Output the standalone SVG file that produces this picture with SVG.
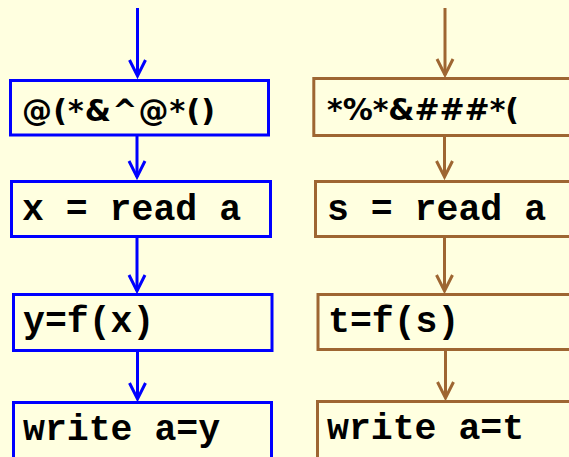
<svg xmlns="http://www.w3.org/2000/svg" width="569" height="457" viewBox="0 0 569 457">
  <style>
    .bg { fill: #FFFFE0; }
    .box { fill: #FFFFE0; stroke-width: 3; }
    .blue .box, .blue-line { stroke: #0000FF; }
    .brown .box, .brown-line { stroke: #9E6632; }
    .wire { fill: none; stroke-width: 3; }
    .head { fill: none; stroke-width: 3; stroke-linejoin: miter; }
    .code { font-family: "Courier New", "Nimbus Mono PS", "Liberation Mono", monospace; font-weight: bold; font-size: 36.5px; fill: #000000; }
    .junk { font-family: "DejaVu Sans", Verdana, sans-serif; font-weight: bold; font-size: 30px; fill: #000000; }
  </style>

  <rect class="bg" x="0" y="0" width="569" height="457"/>

  <!-- connectors -->
  <g id="connectors">
    <!-- left column -->
    <g class="blue-line">
      <line class="wire blue-line" x1="137.5" y1="8" x2="137.5" y2="76"/>
      <polyline class="head blue-line" points="129.5,60 137.5,76 145.5,60"/>
      <line class="wire blue-line" x1="137" y1="135" x2="137" y2="177"/>
      <polyline class="head blue-line" points="129,161 137,177 145,161"/>
      <line class="wire blue-line" x1="137" y1="237" x2="137" y2="291"/>
      <polyline class="head blue-line" points="129,275 137,291 145,275"/>
      <line class="wire blue-line" x1="137.5" y1="351" x2="137.5" y2="399"/>
      <polyline class="head blue-line" points="129.5,383 137.5,399 145.5,383"/>
    </g>
    <!-- right column -->
    <g class="brown-line">
      <line class="wire brown-line" x1="445" y1="8" x2="445" y2="75"/>
      <polyline class="head brown-line" points="437,59 445,75 453,59"/>
      <line class="wire brown-line" x1="444.5" y1="135" x2="444.5" y2="177"/>
      <polyline class="head brown-line" points="436.5,161 444.5,177 452.5,161"/>
      <line class="wire brown-line" x1="444.5" y1="237" x2="444.5" y2="291"/>
      <polyline class="head brown-line" points="436.5,275 444.5,291 452.5,275"/>
      <line class="wire brown-line" x1="445.5" y1="350" x2="445.5" y2="398"/>
      <polyline class="head brown-line" points="437.5,382 445.5,398 453.5,382"/>
    </g>
  </g>

  <!-- left column nodes -->
  <g class="blue">
    <g id="left-garbage">
      <rect class="box" x="10.5" y="80.5" width="258" height="54.5"/>
      <text class="junk" x="22" y="121" textLength="193" lengthAdjust="spacing">@(*&amp;^@*()</text>
    </g>
    <g id="left-read">
      <rect class="box" x="11.5" y="181.5" width="259" height="55"/>
      <text class="code" x="22" y="220">x = read a</text>
    </g>
    <g id="left-apply">
      <rect class="box" x="13.5" y="294.5" width="258.5" height="56"/>
      <text class="code" x="23" y="332">y=f(x)</text>
    </g>
    <g id="left-write">
      <rect class="box" x="13.5" y="402.5" width="258" height="70"/>
      <text class="code" x="23" y="440">write a=y</text>
    </g>
  </g>

  <!-- right column nodes -->
  <g class="brown">
    <g id="right-garbage">
      <rect class="box" x="313.8" y="78.5" width="280" height="57"/>
      <text class="junk" x="327" y="120" textLength="192" lengthAdjust="spacing">*%*&amp;###*(</text>
    </g>
    <g id="right-read">
      <rect class="box" x="315.5" y="181.5" width="280" height="55"/>
      <text class="code" x="327" y="220">s = read a</text>
    </g>
    <g id="right-apply">
      <rect class="box" x="318" y="294.5" width="280" height="55"/>
      <text class="code" x="328" y="332">t=f(s)</text>
    </g>
    <g id="right-write">
      <rect class="box" x="317.5" y="401.5" width="280" height="70"/>
      <text class="code" x="327" y="439">write a=t</text>
    </g>
  </g>
</svg>
